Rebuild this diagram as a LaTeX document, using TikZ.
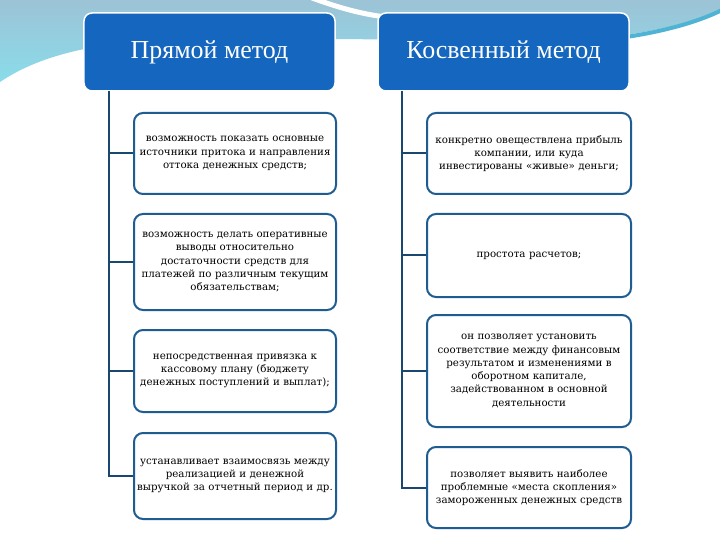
\documentclass[tikz,border=0pt]{standalone}
\usepackage{fontspec}
\setmainfont{DejaVu Serif}
\newfontfamily\hdrfont{Liberation Serif}
\definecolor{hdrblue}{HTML}{1466BE}
\definecolor{boxline}{HTML}{1E5C91}
\definecolor{connline}{HTML}{1A4770}
\definecolor{bgtop}{HTML}{9CC3D6}
\definecolor{bgbot}{HTML}{8ADCEA}
\definecolor{stripe}{HTML}{4FB3D3}
\tikzset{
  hdrbox/.style={draw=white, line width=1.5bp, fill=hdrblue, rounded corners=8bp,
    minimum width=251bp, minimum height=78bp, inner sep=0pt,
    font=\hdrfont\fontsize{26}{30}\selectfont, text=white},
  txtbox/.style={draw=boxline, line width=2bp, fill=white, rounded corners=9bp,
    align=center, inner sep=0pt, text width=196bp,
    font=\fontsize{10.3}{13.3}\selectfont},
  conn/.style={draw=connline, line width=2bp}
}
\begin{document}
\begin{tikzpicture}[x=1bp,y=-1bp]
\useasboundingbox (0,0) rectangle (720,540);
\fill[white] (0,0) rectangle (720,540);
% background swoosh
\shade[top color=bgtop, bottom color=bgbot]
  (0,0) -- (720,0) -- (720,10) .. controls (650,40) and (560,44) .. (460,40)
  -- (200,38) .. controls (80,40) and (30,62) .. (0,82) -- cycle;
\draw[stripe, line width=4bp] (540,44) .. controls (630,42) and (690,26) .. (722,10);
\draw[white, line width=5bp] (312,-2) .. controls (340,8) and (360,14) .. (392,18);
% headers
\node[hdrbox] (h1) at (209.5,52) {Прямой метод};
\node[hdrbox] (h2) at (503.5,52) {Косвенный метод};
% left boxes
\node[txtbox, minimum width=202bp, minimum height=81bp] (l1) at (235,153.5)
  {возможность показать основные\\ источники притока и направления\\ оттока денежных средств;};
\node[txtbox, minimum width=202bp, minimum height=96bp] (l2) at (235,262)
  {возможность делать оперативные\\ выводы относительно\\ достаточности средств для\\ платежей по различным текущим\\ обязательствам;};
\node[txtbox, minimum width=202bp, minimum height=82bp] (l3) at (235,371)
  {непосредственная привязка к\\ кассовому плану (бюджету\\ денежных поступлений и выплат);};
\node[txtbox, minimum width=202bp, minimum height=86bp] (l4) at (235,476)
  {устанавливает взаимосвязь между\\ реализацией и денежной\\ выручкой за отчетный период и др.};
% right boxes
\node[txtbox, minimum width=204bp, minimum height=81bp] (r1) at (529,153.5)
  {конкретно овеществлена прибыль\\ компании, или куда\\ инвестированы «живые» деньги;};
\node[txtbox, minimum width=204bp, minimum height=83bp] (r2) at (529,255.5)
  {простота расчетов;};
\node[txtbox, minimum width=204bp, minimum height=112bp] (r3) at (529,371)
  {он позволяет установить\\ соответствие между финансовым\\ результатом и изменениями в\\ оборотном капитале,\\ задействованном в основной\\ деятельности};
\node[txtbox, minimum width=204bp, minimum height=81bp] (r4) at (529,487.5)
  {позволяет выявить наиболее\\ проблемные «места скопления»\\ замороженных денежных средств};
% connectors
\coordinate (t1) at (109,91);
\coordinate (t2) at (402,91);
\draw[conn] (t1) |- (l4.west);
\foreach \b in {l1,l2,l3} \draw[conn] (t1 |- \b.west) -- (\b.west);
\draw[conn] (t2) |- (r4.west);
\foreach \b in {r1,r2,r3} \draw[conn] (t2 |- \b.west) -- (\b.west);
\end{tikzpicture}
\end{document}
